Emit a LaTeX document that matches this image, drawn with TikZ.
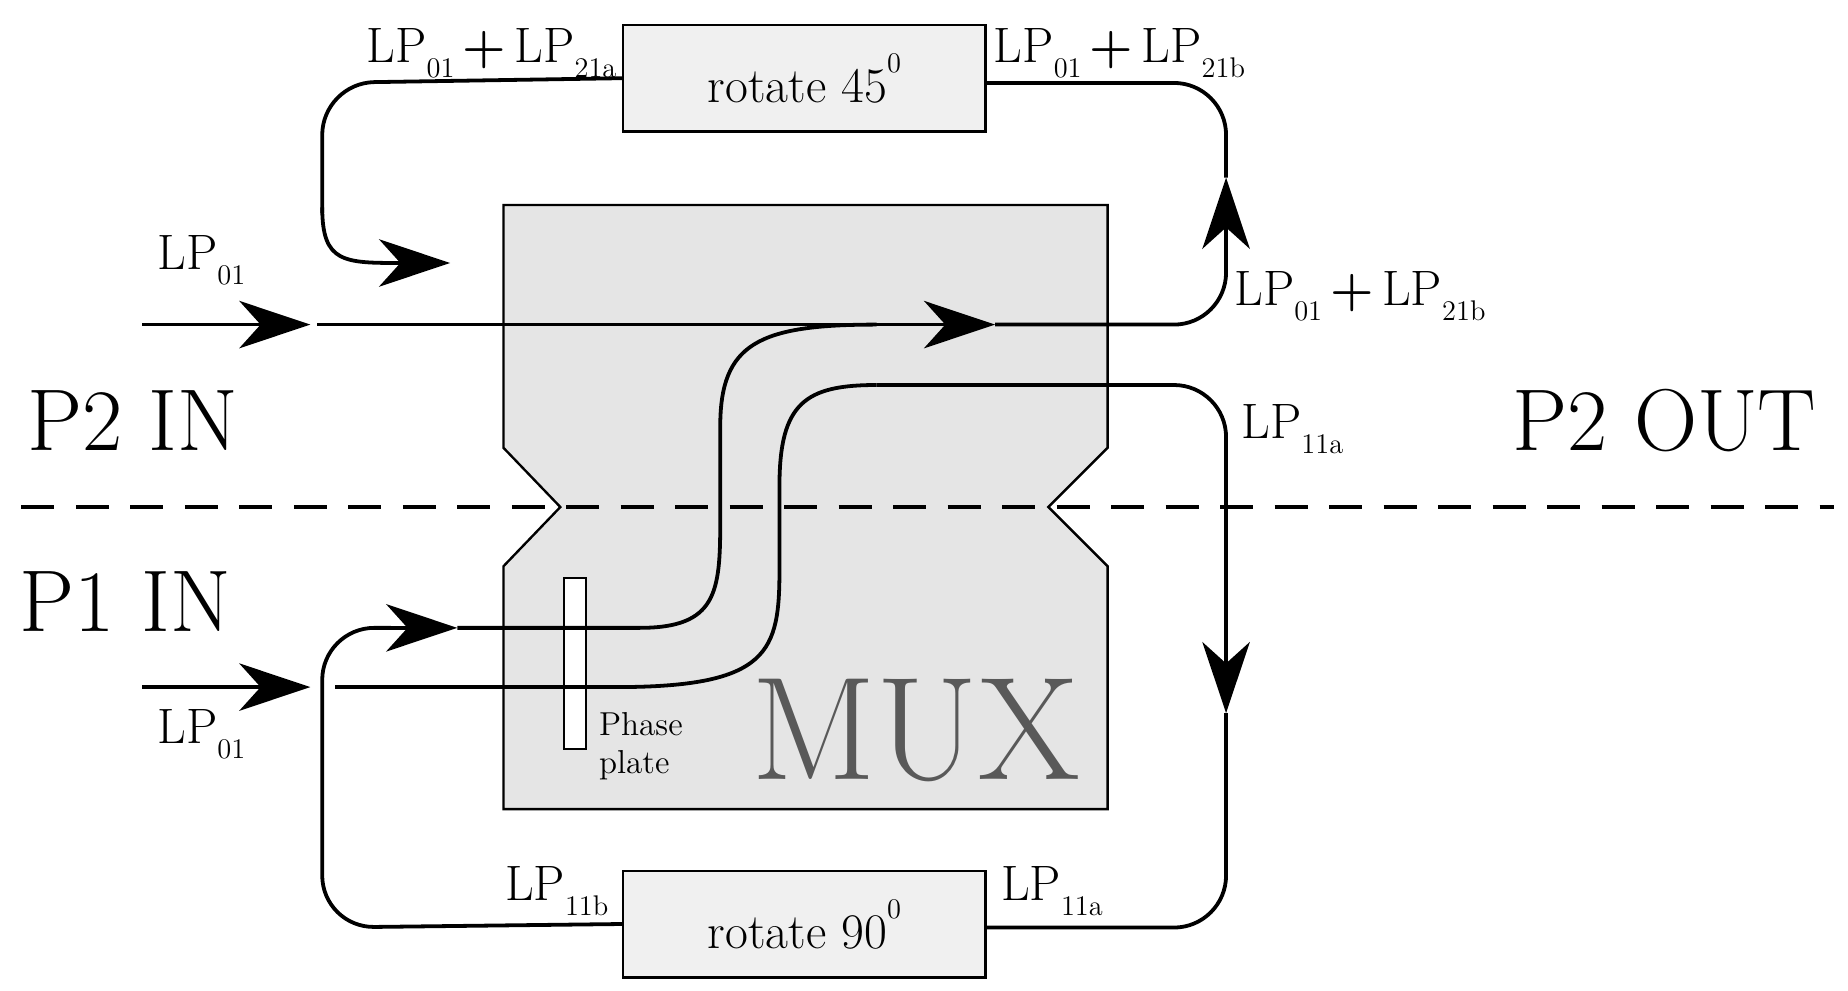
\documentclass[tikz,border=0pt]{standalone}
\usetikzlibrary{arrows.meta}
\begin{document}
\newcommand{\lp}[1]{LP\raisebox{-0.7ex}{\fontsize{12}{13}\selectfont #1}}
\begin{tikzpicture}[x=0.5pt,y=-0.5pt,
  ln/.style={line width=1.6pt,line join=round},
  tip/.style={ln,-{Stealth[length=30pt,width=20pt,inset=9pt]}},
  lbl/.style={font=\fontsize{21}{24}\selectfont,inner sep=0pt},
  big/.style={font=\fontsize{37}{40}\selectfont,inner sep=0pt},
  box/.style={draw,line width=1pt,fill=gray!12,minimum width=153pt,minimum height=45pt,font=\fontsize{21}{24}\selectfont}]
\useasboundingbox (0,0) rectangle (1560,836.5);
% MUX body
\fill[gray!20] (425,173) -- (935,173) -- (935,378) -- (885,428) -- (935,478) -- (935,683) -- (425,683) -- (425,478) -- (473,428) -- (425,378) -- cycle;
\draw[line width=1pt] (425,173) -- (935,173) -- (935,378) -- (885,428) -- (935,478) -- (935,683) -- (425,683) -- (425,478) -- (473,428) -- (425,378) -- cycle;
\node[font=\fontsize{62}{64}\selectfont,text=gray!70!black,inner sep=0pt] (mux) at (773,617) {MUX};
\draw[line width=1.6pt,dash pattern=on 14pt off 9pt] (18,428) -- (1548,428);
% phase plate
\node[draw,line width=0.9pt,fill=white,minimum width=9.5pt,minimum height=72pt,inner sep=0pt] (pp) at (485.5,560) {};
\node[font=\fontsize{14}{17}\selectfont,align=left,inner sep=0pt] (ppl) at (541,630) {Phase\\[-1pt]plate};
% boxes
\node[box] (r45) at (679,66) {rotate 45\raisebox{1.4ex}{\fontsize{12}{12}\selectfont 0}};
\node[box] (r90) at (679,780) {rotate 90\raisebox{1.4ex}{\fontsize{12}{12}\selectfont 0}};
% coordinates
\coordinate (a0) at (120,274); \coordinate (a1) at (262,274);
\coordinate (b0) at (120,580); \coordinate (b1) at (262,580);
\coordinate (c0) at (268,274); \coordinate (c1) at (840,274);
\coordinate (t1) at (1035,150);
\coordinate (u1) at (380,222);
\coordinate (v1) at (386,530);
\coordinate (d1) at (1035,602);
% inputs
\draw[tip] (a0) -- (a1);
\draw[tip] (b0) -- (b1);
% P2 through
\draw[tip] (c0) -- (c1);
\draw[ln,rounded corners=22pt] (c1) -- (1035,274) -- (1035,190);
\draw[tip] (1035,200) -- (t1);
\draw[ln,rounded corners=22pt] (t1) -- (1035,70) -- (r45.east |- 1035,70);
% top loop
\draw[ln,rounded corners=22pt] (r45.west) -- (272,70) -- (272,180);
\draw[tip] (272,175) .. controls (272,222) and (290,222) .. (u1);
% upper S
\draw[ln] (v1) -- (540,530) .. controls (605,530) and (608,500) .. (608,440) -- (608,360) .. controls (608,290) and (640,274) .. (740,274);
% bottom loop
\draw[ln,rounded corners=22pt] (r90.west) -- (272,783) -- (272,530) -- (330,530);
\draw[tip] (320,530) -- (v1);
% lower S
\draw[ln] (283,580) -- (520,580) .. controls (650,580) and (658,550) .. (658,480) -- (658,410) .. controls (658,340) and (680,325) .. (740,325);
\draw[ln,rounded corners=22pt] (740,325) -- (1035,325) -- (1035,560);
\draw[tip] (1035,540) -- (d1);
\draw[ln,rounded corners=22pt] (d1) -- (1035,783) -- (r90.east |- 1035,783);
% labels
\node[lbl] (l1) at (170,220) {\lp{01}};
\node[lbl] (l2) at (170,620) {\lp{01}};
\node[lbl] (l3) at (415,45) {\lp{01}\,\textbf{+}\,\lp{21a}};
\node[lbl] (l4) at (945,45) {\lp{01}\,\textbf{+}\,\lp{21b}};
\node[lbl] (l5) at (1148,250) {\lp{01}\,\textbf{+}\,\lp{21b}};
\node[lbl] (l6) at (1091,362) {\lp{11a}};
\node[lbl] (l7) at (470,752) {\lp{11b}};
\node[lbl] (l8) at (888,752) {\lp{11a}};
\node[big] (p2in) at (112,355) {P2 IN};
\node[big] (p1in) at (106,508) {P1 IN};
\node[big] (p2out) at (1405,355) {P2 OUT};
\end{tikzpicture}
\end{document}
